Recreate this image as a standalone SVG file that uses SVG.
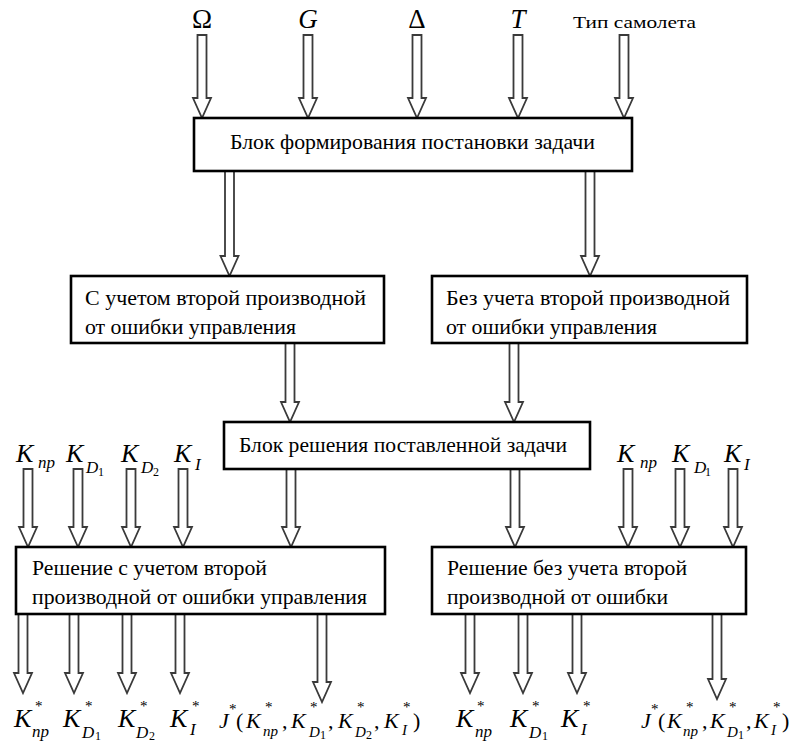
<svg xmlns="http://www.w3.org/2000/svg" width="798" height="744" viewBox="0 0 798 744">
<defs>
<style>
.box{fill:#fff;stroke:#000;stroke-width:2.6}
.arr{fill:#fff;stroke:#3a3a3a;stroke-width:1.8;stroke-linejoin:miter}
.i{font-style:italic}
.big{font-size:27px}
.k{font-size:26px;font-style:italic}
.s{font-size:17px;font-style:italic}
.ss{font-size:12px}
.st{font-size:15px}
.jk{font-size:22px;font-style:italic}
.js{font-size:15px;font-style:italic}
.p{font-size:22px}
</style>
</defs>
<rect width="798" height="744" fill="#fff"/>
<g id="connectors">
<path class="arr" d="M197.5,35 H206.5 V98 H211 L202,118 L193,98 H197.5 Z"/>
<path class="arr" d="M303.5,35 H312.5 V98 H317 L308,118 L299,98 H303.5 Z"/>
<path class="arr" d="M412.5,35 H421.5 V98 H426 L417,118 L408,98 H412.5 Z"/>
<path class="arr" d="M513.5,35 H522.5 V98 H527 L518,118 L509,98 H513.5 Z"/>
<path class="arr" d="M619.5,35 H628.5 V98 H633 L624,118 L615,98 H619.5 Z"/>
<path class="arr" d="M225,171 H234 V256 H238.5 L229.5,276 L220.5,256 H225 Z"/>
<path class="arr" d="M585.5,171 H594.5 V256 H599 L590,276 L581,256 H585.5 Z"/>
<path class="arr" d="M285.5,343 H294.5 V402 H299 L290,422 L281,402 H285.5 Z"/>
<path class="arr" d="M509.5,343 H518.5 V402 H523 L514,422 L505,402 H509.5 Z"/>
<path class="arr" d="M286.5,469 H295.5 V527 H300 L291,547 L282,527 H286.5 Z"/>
<path class="arr" d="M510.5,469 H519.5 V527 H524 L515,547 L506,527 H510.5 Z"/>
<path class="arr" d="M23.5,469 H32.5 V527 H37 L28,547 L19,527 H23.5 Z"/>
<path class="arr" d="M73.5,469 H82.5 V527 H87 L78,547 L69,527 H73.5 Z"/>
<path class="arr" d="M126.5,469 H135.5 V527 H140 L131,547 L122,527 H126.5 Z"/>
<path class="arr" d="M178.5,469 H187.5 V527 H192 L183,547 L174,527 H178.5 Z"/>
<path class="arr" d="M623.5,469 H632.5 V527 H637 L628,547 L619,527 H623.5 Z"/>
<path class="arr" d="M675.5,469 H684.5 V527 H689 L680,547 L671,527 H675.5 Z"/>
<path class="arr" d="M728.5,469 H737.5 V527 H742 L733,547 L724,527 H728.5 Z"/>
<path class="arr" d="M18.5,614 H27.5 V673 H32 L23,693 L14,673 H18.5 Z"/>
<path class="arr" d="M69.5,614 H78.5 V673 H83 L74,693 L65,673 H69.5 Z"/>
<path class="arr" d="M122.5,614 H131.5 V673 H136 L127,693 L118,673 H122.5 Z"/>
<path class="arr" d="M175.5,614 H184.5 V673 H189 L180,693 L171,673 H175.5 Z"/>
<path class="arr" d="M317.5,614 H326.5 V682 H331 L322,702 L313,682 H317.5 Z"/>
<path class="arr" d="M465.5,614 H474.5 V673 H479 L470,693 L461,673 H465.5 Z"/>
<path class="arr" d="M518.5,614 H527.5 V673 H532 L523,693 L514,673 H518.5 Z"/>
<path class="arr" d="M572.5,614 H581.5 V673 H586 L577,693 L568,673 H572.5 Z"/>
<path class="arr" d="M712.5,614 H721.5 V679 H726 L717,699 L708,679 H712.5 Z"/>
</g>
<g font-family="Liberation Serif, serif" fill="#000">
<g id="inputs-top">
<text class="big" x="202" y="28" text-anchor="middle">Ω</text>
<text class="big i" x="308" y="28" text-anchor="middle">G</text>
<text class="big" x="417" y="28" text-anchor="middle">Δ</text>
<text class="big i" x="518" y="28" text-anchor="middle">T</text>
<text x="573" y="28" font-size="17" textLength="123" lengthAdjust="spacingAndGlyphs">Тип самолета</text>
</g>
<g id="node-formulation">
<rect class="box" x="194" y="118" width="438" height="53"/>
<text x="230" y="149" font-size="21" textLength="365" lengthAdjust="spacingAndGlyphs">Блок формирования постановки задачи</text>
</g>
<g id="node-with-second">
<rect class="box" x="71" y="276" width="313" height="67"/>
<text x="85" y="305" font-size="21" textLength="281" lengthAdjust="spacingAndGlyphs">С учетом второй производной</text>
<text x="85" y="334" font-size="21" textLength="211" lengthAdjust="spacingAndGlyphs">от ошибки управления</text>
</g>
<g id="node-without-second">
<rect class="box" x="432" y="276" width="315" height="67"/>
<text x="446" y="305" font-size="21" textLength="284" lengthAdjust="spacingAndGlyphs">Без учета второй производной</text>
<text x="446" y="334" font-size="21" textLength="211" lengthAdjust="spacingAndGlyphs">от ошибки управления</text>
</g>
<g id="node-solver">
<rect class="box" x="224" y="422" width="366" height="47"/>
<text x="239" y="452" font-size="21" textLength="328" lengthAdjust="spacingAndGlyphs">Блок решения поставленной задачи</text>
</g>
<g id="node-solution-left">
<rect class="box" x="16" y="547" width="369" height="67"/>
<text x="32" y="575" font-size="21" textLength="235" lengthAdjust="spacingAndGlyphs">Решение с учетом второй</text>
<text x="32" y="604" font-size="21" textLength="335" lengthAdjust="spacingAndGlyphs">производной от ошибки управления</text>
</g>
<g id="node-solution-right">
<rect class="box" x="432" y="547" width="314" height="67"/>
<text x="447" y="575" font-size="21" textLength="240" lengthAdjust="spacingAndGlyphs">Решение без учета второй</text>
<text x="447" y="604" font-size="21" textLength="221" lengthAdjust="spacingAndGlyphs">производной от ошибки</text>
</g>
<g id="inputs-left">
<text class="k" x="16" y="462">K</text><text class="s" x="38" y="468">пр</text>
<text class="k" x="66" y="462">K</text><text class="s" x="86" y="473">D</text><text class="ss" x="98" y="476">1</text>
<text class="k" x="121" y="462">K</text><text class="s" x="141" y="473">D</text><text class="ss" x="153" y="476">2</text>
<text class="k" x="174" y="462">K</text><text class="s" x="195" y="470">I</text>
</g>
<g id="inputs-right">
<text class="k" x="617" y="462">K</text><text class="s" x="640" y="468">пр</text>
<text class="k" x="672" y="462">K</text><text class="s" x="694" y="473">D</text><text class="ss" x="705" y="476">1</text>
<text class="k" x="724" y="462">K</text><text class="s" x="744" y="470">I</text>
</g>
<g id="outputs-left">
<text class="k" x="14" y="727">K</text><text class="st" x="35" y="711">*</text><text class="s" x="32" y="737">пр</text>
<text class="k" x="63" y="727">K</text><text class="st" x="85" y="711">*</text><text class="s" x="82" y="738">D</text><text class="ss" x="95" y="740">1</text>
<text class="k" x="118" y="727">K</text><text class="st" x="140" y="711">*</text><text class="s" x="136" y="738">D</text><text class="ss" x="149" y="740">2</text>
<text class="k" x="170" y="727">K</text><text class="st" x="192" y="711">*</text><text class="s" x="190" y="735">I</text>
<text class="jk" x="219" y="728">J</text><text class="st" x="229" y="714">*</text><text class="p" x="236" y="728">(</text>
<text class="jk" x="246" y="728">K</text><text class="st" x="265" y="712">*</text><text class="js" x="263" y="736">пр</text><text class="p" x="282" y="728">,</text>
<text class="jk" x="291" y="728">K</text><text class="st" x="310" y="712">*</text><text class="js" x="309" y="737">D</text><text class="ss" x="320" y="739">1</text><text class="p" x="328" y="728">,</text>
<text class="jk" x="338" y="728">K</text><text class="st" x="357" y="712">*</text><text class="js" x="355" y="737">D</text><text class="ss" x="366" y="739">2</text><text class="p" x="374" y="728">,</text>
<text class="jk" x="384" y="728">K</text><text class="st" x="403" y="712">*</text><text class="js" x="402" y="735">I</text><text class="p" x="413" y="728">)</text>
</g>
<g id="outputs-right">
<text class="k" x="456" y="727">K</text><text class="st" x="477" y="711">*</text><text class="s" x="475" y="737">пр</text>
<text class="k" x="510" y="727">K</text><text class="st" x="532" y="711">*</text><text class="s" x="529" y="738">D</text><text class="ss" x="542" y="740">1</text>
<text class="k" x="561" y="727">K</text><text class="st" x="583" y="711">*</text><text class="s" x="581" y="735">I</text>
<text class="jk" x="641" y="728">J</text><text class="st" x="651" y="714">*</text><text class="p" x="658" y="728">(</text>
<text class="jk" x="667" y="728">K</text><text class="st" x="686" y="712">*</text><text class="js" x="683" y="736">пр</text><text class="p" x="702" y="728">,</text>
<text class="jk" x="710" y="728">K</text><text class="st" x="729" y="712">*</text><text class="js" x="727" y="737">D</text><text class="ss" x="738" y="739">1</text><text class="p" x="746" y="728">,</text>
<text class="jk" x="754" y="728">K</text><text class="st" x="773" y="712">*</text><text class="js" x="771" y="735">I</text><text class="p" x="782" y="728">)</text>
</g>
</g>
</svg>
